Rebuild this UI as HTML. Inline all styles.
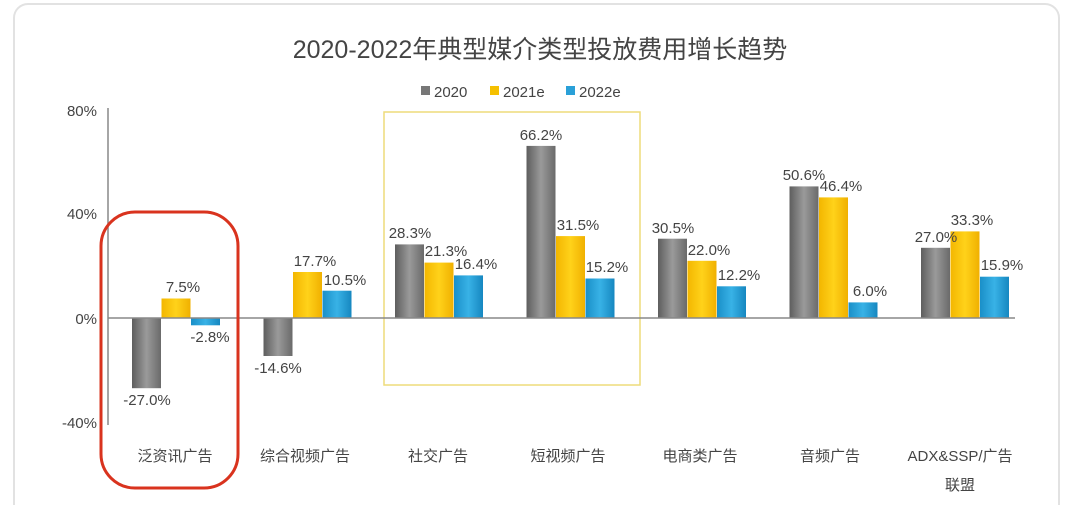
<!DOCTYPE html><html><head><meta charset="utf-8"><style>body{margin:0;background:#fff}svg{display:block}text{font-family:"Liberation Sans","Noto Sans CJK SC",sans-serif;fill:#444}</style></head><body>
<svg width="1080" height="505" viewBox="0 0 1080 505">
<defs>
<linearGradient id="g" x1="0" x2="1"><stop offset="0" stop-color="#5e5e5e"/><stop offset=".5" stop-color="#9a9a9a"/><stop offset="1" stop-color="#6a6a6a"/></linearGradient>
<linearGradient id="y" x1="0" x2="1"><stop offset="0" stop-color="#f3b600"/><stop offset=".5" stop-color="#ffd21a"/><stop offset="1" stop-color="#f0b000"/></linearGradient>
<linearGradient id="b" x1="0" x2="1"><stop offset="0" stop-color="#1a8fc8"/><stop offset=".5" stop-color="#38b2e6"/><stop offset="1" stop-color="#1687c0"/></linearGradient>
</defs>
<rect x="14" y="4" width="1045" height="520" rx="14" fill="#fff" stroke="#e2e2e2" stroke-width="2"/>
<text x="540" y="58" font-size="25" text-anchor="middle" fill="#333">2020-2022年典型媒介类型投放费用增长趋势</text>
<rect x="421" y="86" width="9" height="9" fill="#777"/><text x="434" y="97" font-size="15" fill="#555">2020</text>
<rect x="490" y="86" width="9" height="9" fill="#f5c000"/><text x="503" y="97" font-size="15" fill="#555">2021e</text>
<rect x="566" y="86" width="9" height="9" fill="#2aa0d8"/><text x="579" y="97" font-size="15" fill="#555">2022e</text>
<g font-size="15" fill="#444">
<text x="97" y="116" text-anchor="end">80%</text><text x="97" y="219" text-anchor="end">40%</text><text x="97" y="324" text-anchor="end">0%</text><text x="97" y="428" text-anchor="end">-40%</text></g>
<line x1="108" y1="108" x2="108" y2="425" stroke="#888" stroke-width="1.5"/>
<rect x="384" y="112" width="256" height="273" fill="none" stroke="#eedc7a" stroke-width="1.5"/>
<g>
<rect x="132" y="318" width="29" height="70.2" fill="url(#g)"/>
<rect x="161.5" y="298.5" width="29" height="19.5" fill="url(#y)"/>
<rect x="191" y="318" width="29" height="7.3" fill="url(#b)"/>
<rect x="263.5" y="318" width="29" height="38" fill="url(#g)"/>
<rect x="293" y="272" width="29" height="46" fill="url(#y)"/>
<rect x="322.5" y="290.7" width="29" height="27.3" fill="url(#b)"/>
<rect x="395" y="244.4" width="29" height="73.6" fill="url(#g)"/>
<rect x="424.5" y="262.6" width="29" height="55.4" fill="url(#y)"/>
<rect x="454" y="275.4" width="29" height="42.6" fill="url(#b)"/>
<rect x="526.5" y="145.9" width="29" height="172.1" fill="url(#g)"/>
<rect x="556" y="236.1" width="29" height="81.9" fill="url(#y)"/>
<rect x="585.5" y="278.5" width="29" height="39.5" fill="url(#b)"/>
<rect x="658" y="238.7" width="29" height="79.3" fill="url(#g)"/>
<rect x="687.5" y="260.8" width="29" height="57.2" fill="url(#y)"/>
<rect x="717" y="286.3" width="29" height="31.7" fill="url(#b)"/>
<rect x="789.5" y="186.4" width="29" height="131.6" fill="url(#g)"/>
<rect x="819" y="197.4" width="29" height="120.6" fill="url(#y)"/>
<rect x="848.5" y="302.4" width="29" height="15.6" fill="url(#b)"/>
<rect x="921" y="247.8" width="29" height="70.2" fill="url(#g)"/>
<rect x="950.5" y="231.4" width="29" height="86.6" fill="url(#y)"/>
<rect x="980" y="276.7" width="29" height="41.3" fill="url(#b)"/>
</g>
<g font-size="15" text-anchor="middle" fill="#444">
<text x="147" y="405">-27.0%</text><text x="183" y="292">7.5%</text><text x="210" y="342">-2.8%</text>
<text x="278" y="373">-14.6%</text><text x="315" y="266">17.7%</text><text x="345" y="285">10.5%</text>
<text x="410" y="238">28.3%</text><text x="446" y="256">21.3%</text><text x="476" y="269">16.4%</text>
<text x="541" y="140">66.2%</text><text x="578" y="230">31.5%</text><text x="607" y="272">15.2%</text>
<text x="673" y="233">30.5%</text><text x="709" y="255">22.0%</text><text x="739" y="280">12.2%</text>
<text x="804" y="180">50.6%</text><text x="841" y="191">46.4%</text><text x="870" y="296">6.0%</text>
<text x="936" y="242">27.0%</text><text x="972" y="225">33.3%</text><text x="1002" y="270">15.9%</text>
</g>
<line x1="108" y1="318" x2="1015" y2="318" stroke="#888" stroke-width="1.5"/>
<rect x="101" y="212" width="137" height="276" rx="34" fill="none" stroke="#d9331e" stroke-width="3"/>
<g font-size="15" text-anchor="middle" fill="#444">
<text x="175" y="461">泛资讯广告</text><text x="305" y="461">综合视频广告</text><text x="438" y="461">社交广告</text><text x="568" y="461">短视频广告</text><text x="700" y="461">电商类广告</text><text x="830" y="461">音频广告</text><text x="960" y="461">ADX&amp;SSP/广告</text><text x="960" y="490">联盟</text></g>
</svg></body></html>
